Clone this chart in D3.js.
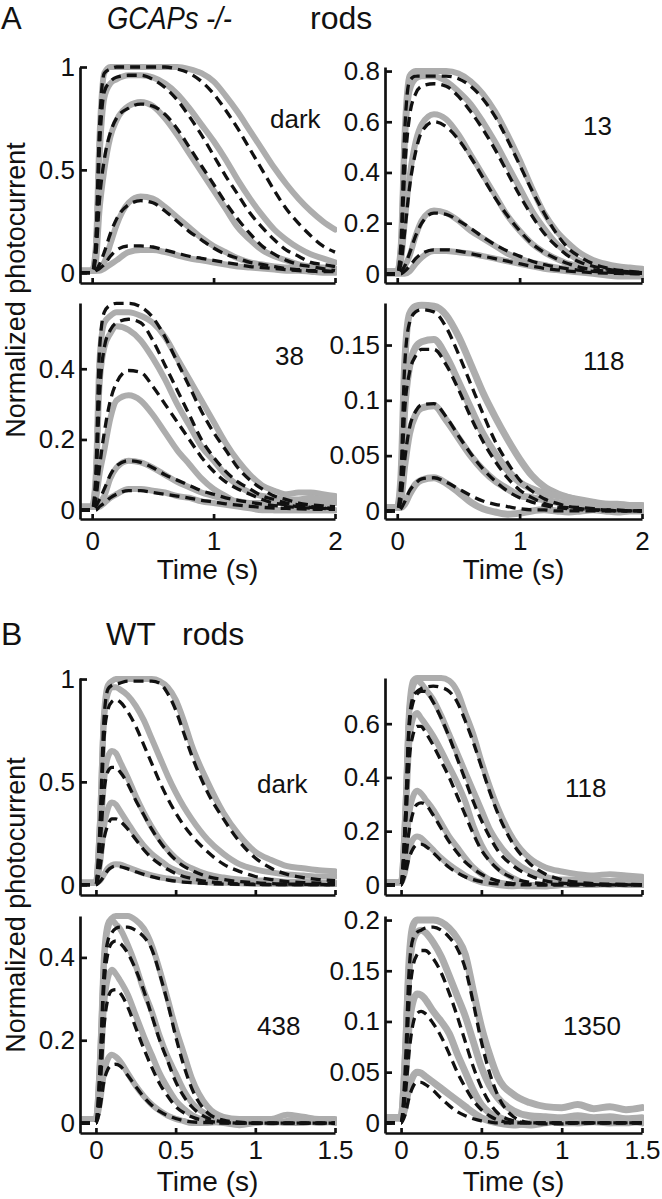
<!DOCTYPE html>
<html>
<head>
<meta charset="utf-8">
<script src="https://cdn.jsdelivr.net/npm/d3@7"></script>
<style>
  html, body { margin: 0; padding: 0; background: #fff; }
  svg { display: block; }
  text { font-family: "Liberation Sans", Arial, Helvetica, sans-serif; fill: #111; }
</style>
</head>
<body>
<script>
// ---------------- DATA ----------------
// time grids (s)
const tA = [-0.1, 0, 0.03, 0.06, 0.1, 0.15, 0.2, 0.3, 0.4, 0.5, 0.6, 0.7, 0.8, 0.9, 1.0, 1.1, 1.2, 1.3, 1.4, 1.5, 1.6, 1.7, 1.8, 1.9, 2.0];
const tB = [-0.1, 0, 0.025, 0.05, 0.075, 0.1, 0.125, 0.15, 0.2, 0.25, 0.3, 0.35, 0.4, 0.45, 0.5, 0.55, 0.6, 0.7, 0.8, 0.9, 1.0, 1.1, 1.2, 1.3, 1.4, 1.5];

const panelLabels = ["dark", "13", "38", "118", "dark", "118", "438", "1350"];
const xTicksA = [0, 1, 2];
const xTicksB = [0, 0.5, 1, 1.5];
const yTicksADark = [0, 0.5, 1];
const yTicksA13 = [0, 0.2, 0.4, 0.6, 0.8];
const yTicksA38 = [0, 0.2, 0.4];
const yTicksA118 = [0, 0.05, 0.1, 0.15];
const yTicksBDark = [0, 0.5, 1];
const yTicksB118 = [0, 0.2, 0.4, 0.6];
const yTicksB438 = [0, 0.2, 0.4];
const yTicksB1350 = [0, 0.05, 0.1, 0.15, 0.2];

// GCAPs-/- dark
const aDarkData = [
  [0.01,0.01,0.12,0.65,0.97,1.0,1.0,1.0,1.0,1.0,1.0,1.0,0.99,0.97,0.93,0.86,0.78,0.69,0.6,0.51,0.43,0.36,0.3,0.25,0.21],
  [0.01,0.01,0.1,0.55,0.85,0.92,0.94,0.96,0.96,0.95,0.92,0.87,0.8,0.72,0.64,0.55,0.45,0.36,0.28,0.21,0.16,0.12,0.09,0.07,0.05],
  [0.01,0.01,0.05,0.3,0.5,0.66,0.74,0.81,0.83,0.81,0.75,0.67,0.58,0.49,0.4,0.31,0.22,0.16,0.11,0.08,0.06,0.04,0.03,0.025,0.02],
  [0.01,0.01,0.01,0.02,0.05,0.14,0.23,0.34,0.37,0.36,0.32,0.27,0.22,0.17,0.13,0.1,0.07,0.05,0.04,0.03,0.025,0.02,0.015,0.01,0.01],
  [0.01,0.01,0.01,0.01,0.02,0.04,0.06,0.1,0.11,0.11,0.1,0.085,0.07,0.06,0.05,0.04,0.03,0.025,0.02,0.015,0.01,0.01,0.005,0.0,0.0]
];
const aDarkFit = [
  [0,0,0.15,0.7,0.97,0.99,1.0,1.0,1.0,1.0,1.0,0.99,0.97,0.93,0.87,0.79,0.7,0.6,0.5,0.4,0.31,0.24,0.18,0.13,0.1],
  [0,0,0.12,0.6,0.88,0.93,0.95,0.96,0.96,0.94,0.9,0.84,0.76,0.67,0.57,0.47,0.38,0.29,0.22,0.16,0.11,0.08,0.05,0.04,0.03],
  [0,0,0.08,0.35,0.55,0.68,0.75,0.8,0.82,0.81,0.77,0.7,0.61,0.52,0.43,0.34,0.26,0.19,0.13,0.09,0.06,0.04,0.03,0.02,0.01],
  [0,0,0.01,0.04,0.1,0.19,0.26,0.33,0.35,0.34,0.3,0.25,0.2,0.16,0.12,0.09,0.07,0.05,0.04,0.03,0.02,0.015,0.01,0.01,0.005],
  [0,0,0.01,0.02,0.04,0.08,0.11,0.13,0.13,0.125,0.11,0.095,0.08,0.07,0.06,0.05,0.04,0.03,0.025,0.02,0.015,0.01,0.008,0.005,0.005]
];
// GCAPs-/- 13
const a13Data = [
  [0.01,0.01,0.12,0.55,0.78,0.8,0.8,0.8,0.8,0.79,0.76,0.71,0.64,0.55,0.45,0.34,0.24,0.17,0.12,0.08,0.055,0.04,0.03,0.025,0.02],
  [0.01,0.01,0.1,0.5,0.72,0.77,0.78,0.78,0.76,0.72,0.67,0.6,0.52,0.43,0.34,0.25,0.18,0.12,0.08,0.05,0.04,0.03,0.02,0.015,0.01],
  [0.01,0.01,0.05,0.2,0.38,0.52,0.59,0.63,0.61,0.55,0.47,0.39,0.31,0.23,0.17,0.12,0.085,0.06,0.04,0.03,0.02,0.015,0.01,0.005,0.0],
  [0.01,0.01,0.01,0.03,0.07,0.15,0.21,0.25,0.24,0.21,0.17,0.14,0.11,0.08,0.06,0.045,0.035,0.025,0.02,0.015,0.01,0.005,0.0,0.0,0.0],
  [0.0,0.0,0.0,0.0,0.01,0.04,0.065,0.09,0.09,0.085,0.08,0.07,0.06,0.05,0.04,0.03,0.02,0.015,0.01,0.005,0.0,-0.005,-0.01,-0.01,-0.01]
];
const a13Fit = [
  [0,0,0.12,0.55,0.76,0.78,0.78,0.78,0.78,0.77,0.74,0.69,0.62,0.53,0.43,0.33,0.24,0.16,0.1,0.065,0.04,0.025,0.015,0.01,0.005],
  [0,0,0.08,0.4,0.62,0.71,0.74,0.75,0.74,0.7,0.64,0.57,0.49,0.4,0.31,0.23,0.16,0.11,0.07,0.045,0.03,0.02,0.012,0.008,0.005],
  [0,0,0.04,0.16,0.34,0.48,0.56,0.6,0.58,0.53,0.46,0.38,0.3,0.23,0.17,0.12,0.085,0.06,0.04,0.025,0.017,0.011,0.007,0.004,0.002],
  [0,0,0.01,0.03,0.08,0.15,0.2,0.24,0.235,0.21,0.18,0.145,0.115,0.09,0.07,0.05,0.037,0.027,0.02,0.014,0.01,0.007,0.005,0.003,0.002],
  [0,0,0,0.01,0.03,0.06,0.08,0.095,0.095,0.09,0.08,0.07,0.06,0.05,0.04,0.03,0.022,0.016,0.011,0.008,0.005,0.003,0.002,0.001,0.0]
];
// GCAPs-/- 38
const a38Data = [
  [0.01,0.01,0.1,0.42,0.53,0.55,0.56,0.56,0.55,0.53,0.49,0.43,0.37,0.31,0.25,0.19,0.14,0.1,0.07,0.055,0.045,0.05,0.05,0.045,0.04],
  [0.01,0.01,0.08,0.35,0.46,0.5,0.52,0.51,0.48,0.43,0.37,0.3,0.24,0.18,0.14,0.1,0.07,0.05,0.04,0.035,0.03,0.03,0.035,0.03,0.03],
  [0.01,0.01,0.03,0.1,0.17,0.26,0.31,0.325,0.31,0.27,0.22,0.17,0.13,0.09,0.06,0.04,0.02,0.01,0.005,0.0,0.0,0.0,0.0,0.0,0.0],
  [0.01,0.01,0.01,0.02,0.04,0.09,0.12,0.14,0.135,0.12,0.1,0.08,0.065,0.05,0.04,0.03,0.025,0.02,0.02,0.02,0.02,0.025,0.02,0.02,0.02],
  [0.01,0.01,0.01,0.01,0.02,0.035,0.045,0.06,0.06,0.055,0.05,0.04,0.035,0.025,0.02,0.015,0.01,0.005,0.0,0.0,0.0,0.0,0.0,0.0,0.0]
];
const a38Fit = [
  [0,0,0.1,0.45,0.56,0.58,0.585,0.585,0.575,0.545,0.49,0.42,0.35,0.28,0.22,0.17,0.12,0.085,0.06,0.04,0.03,0.02,0.015,0.012,0.01],
  [0,0,0.07,0.32,0.46,0.51,0.53,0.54,0.53,0.48,0.41,0.34,0.27,0.2,0.15,0.11,0.08,0.06,0.04,0.03,0.02,0.015,0.01,0.007,0.005],
  [0,0,0.03,0.12,0.22,0.31,0.36,0.395,0.39,0.35,0.3,0.25,0.2,0.15,0.11,0.08,0.06,0.045,0.03,0.02,0.015,0.01,0.008,0.006,0.005],
  [0,0,0.01,0.03,0.06,0.1,0.125,0.14,0.135,0.12,0.1,0.085,0.07,0.055,0.045,0.035,0.028,0.022,0.017,0.013,0.01,0.008,0.006,0.005,0.004],
  [0,0,0,0.01,0.02,0.035,0.045,0.055,0.055,0.05,0.045,0.04,0.034,0.028,0.023,0.018,0.014,0.011,0.008,0.006,0.005,0.004,0.003,0.002,0.002]
];
// GCAPs-/- 118
const a118Data = [
  [0.003,0.003,0.03,0.13,0.178,0.185,0.186,0.185,0.177,0.158,0.133,0.107,0.085,0.065,0.047,0.032,0.022,0.016,0.012,0.009,0.007,0.006,0.006,0.005,0.005],
  [0.003,0.003,0.02,0.09,0.13,0.148,0.153,0.155,0.14,0.117,0.093,0.07,0.052,0.037,0.026,0.02,0.016,0.014,0.012,0.01,0.008,0.006,0.005,0.004,0.004],
  [0.003,0.003,0.01,0.04,0.07,0.087,0.093,0.095,0.082,0.066,0.05,0.037,0.027,0.02,0.014,0.012,0.01,0.008,0.006,0.005,0.004,0.003,0.003,0.002,0.002],
  [0.003,0.003,0.003,0.006,0.015,0.024,0.028,0.03,0.025,0.017,0.008,0.002,-0.001,-0.003,-0.002,0.0,0.001,0.0,-0.001,0.0,0.001,0.0,-0.001,0.0,0.0]
];
const a118Fit = [
  [0,0,0.03,0.13,0.17,0.18,0.182,0.18,0.166,0.142,0.115,0.088,0.063,0.044,0.028,0.018,0.011,0.007,0.004,0.003,0.002,0.001,0.001,0.0,0.0],
  [0,0,0.02,0.09,0.125,0.14,0.146,0.146,0.132,0.11,0.085,0.063,0.045,0.03,0.019,0.012,0.007,0.004,0.003,0.002,0.001,0.001,0.0,0.0,0.0],
  [0,0,0.01,0.045,0.075,0.09,0.096,0.097,0.085,0.068,0.052,0.038,0.027,0.018,0.012,0.008,0.005,0.003,0.002,0.001,0.001,0.0,0.0,0.0,0.0],
  [0,0,0.002,0.008,0.018,0.025,0.029,0.03,0.026,0.02,0.014,0.009,0.006,0.004,0.002,0.001,0.001,0.0,0.0,0.0,0.0,0.0,0.0,0.0,0.0]
];
// WT dark
const bDarkData = [
  [0.01,0.01,0.3,0.82,0.97,0.99,1,1,1,1,1,1,0.99,0.96,0.9,0.8,0.68,0.5,0.35,0.24,0.16,0.12,0.09,0.08,0.07,0.065],
  [0.01,0.01,0.3,0.8,0.93,0.96,0.96,0.95,0.92,0.87,0.8,0.71,0.62,0.53,0.45,0.38,0.32,0.22,0.15,0.1,0.075,0.06,0.05,0.045,0.04,0.04],
  [0.01,0.01,0.2,0.5,0.62,0.65,0.64,0.6,0.52,0.43,0.35,0.28,0.22,0.17,0.13,0.1,0.08,0.05,0.035,0.025,0.02,0.02,0.015,0.015,0.01,0.01],
  [0.01,0.01,0.1,0.28,0.37,0.4,0.39,0.36,0.3,0.24,0.19,0.15,0.12,0.09,0.07,0.055,0.045,0.03,0.02,0.015,0.01,0.01,0.01,0.01,0.005,0.005],
  [0.01,0.01,0.02,0.05,0.08,0.095,0.1,0.098,0.085,0.07,0.056,0.045,0.036,0.03,0.025,0.02,0.017,0.012,0.009,0.007,0.005,0.005,0.004,0.004,0.003,0.003]
];
const bDarkFit = [
  [0,0,0.28,0.8,0.95,0.97,0.975,0.98,0.99,0.99,0.99,0.99,0.98,0.93,0.85,0.74,0.63,0.45,0.32,0.21,0.13,0.08,0.05,0.035,0.025,0.02],
  [0,0,0.25,0.7,0.85,0.89,0.9,0.89,0.84,0.77,0.68,0.59,0.5,0.42,0.35,0.29,0.24,0.16,0.1,0.065,0.04,0.025,0.015,0.01,0.008,0.006],
  [0,0,0.18,0.45,0.55,0.57,0.57,0.55,0.49,0.41,0.34,0.27,0.21,0.16,0.12,0.09,0.07,0.04,0.025,0.015,0.01,0.005,0.003,0.002,0.001,0.0],
  [0,0,0.08,0.22,0.29,0.32,0.32,0.31,0.27,0.22,0.17,0.13,0.1,0.075,0.055,0.04,0.03,0.015,0.008,0.004,0.002,0.001,0,0,0,0],
  [0,0,0.015,0.04,0.07,0.085,0.09,0.088,0.077,0.063,0.05,0.039,0.03,0.023,0.017,0.013,0.01,0.006,0.003,0.002,0.001,0,0,0,0,0]
];
// WT 118
const b118Data = [
  [0.01,0.01,0.25,0.65,0.76,0.77,0.77,0.77,0.77,0.77,0.76,0.72,0.64,0.56,0.46,0.37,0.29,0.17,0.1,0.065,0.05,0.04,0.035,0.04,0.035,0.03],
  [0.01,0.01,0.25,0.63,0.74,0.76,0.75,0.73,0.69,0.63,0.56,0.49,0.42,0.35,0.28,0.21,0.16,0.09,0.05,0.03,0.02,0.02,0.015,0.015,0.02,0.015],
  [0.01,0.01,0.2,0.52,0.62,0.64,0.62,0.6,0.555,0.5,0.44,0.38,0.31,0.22,0.15,0.1,0.065,0.025,0.0,-0.005,0.0,0.005,0.0,0.005,0.01,0.005],
  [0.01,0.01,0.1,0.26,0.33,0.35,0.34,0.32,0.28,0.23,0.18,0.14,0.1,0.065,0.04,0.02,0.01,0.0,-0.005,-0.005,0.0,0.0,0.005,0.0,0.005,0.0],
  [0.01,0.01,0.05,0.13,0.17,0.18,0.175,0.16,0.13,0.1,0.075,0.055,0.035,0.02,0.01,0.005,0.0,-0.005,0.0,0.0,0.005,0.0,0.0,0.005,0.0,0.0]
];
const b118Fit = [
  [0,0,0.22,0.6,0.7,0.72,0.73,0.735,0.74,0.735,0.72,0.68,0.61,0.53,0.44,0.35,0.27,0.15,0.08,0.04,0.02,0.01,0.005,0.003,0.002,0.001],
  [0,0,0.22,0.58,0.68,0.71,0.72,0.72,0.68,0.62,0.55,0.47,0.39,0.31,0.24,0.18,0.13,0.07,0.035,0.015,0.007,0.003,0.001,0,0,0],
  [0,0,0.18,0.46,0.56,0.59,0.59,0.57,0.52,0.46,0.4,0.33,0.26,0.19,0.13,0.09,0.06,0.025,0.01,0.004,0.002,0.001,0,0,0,0],
  [0,0,0.08,0.2,0.27,0.3,0.305,0.3,0.26,0.21,0.16,0.12,0.085,0.06,0.04,0.025,0.015,0.005,0.002,0,0,0,0,0,0,0],
  [0,0,0.04,0.1,0.135,0.15,0.152,0.145,0.12,0.09,0.065,0.045,0.03,0.02,0.012,0.007,0.004,0.001,0,0,0,0,0,0,0,0]
];
// WT 438
const b438Data = [
  [0.01,0.01,0.15,0.4,0.48,0.495,0.5,0.5,0.5,0.49,0.47,0.43,0.37,0.3,0.23,0.17,0.11,0.04,0.015,0.01,0.01,0.01,0.02,0.015,0.01,0.01],
  [0.01,0.01,0.15,0.38,0.47,0.49,0.48,0.47,0.43,0.38,0.32,0.27,0.21,0.16,0.12,0.08,0.05,0.02,0.005,0.0,0.005,0.0,0.005,0.01,0.005,0.005],
  [0.01,0.01,0.1,0.28,0.35,0.37,0.36,0.345,0.31,0.26,0.21,0.165,0.12,0.085,0.055,0.035,0.02,0.005,0.0,-0.005,0.0,0.005,0.0,0.005,0.0,0.005],
  [0.01,0.01,0.05,0.12,0.155,0.165,0.16,0.15,0.12,0.09,0.065,0.045,0.03,0.018,0.01,0.005,0.0,0.0,0.005,0.0,0.0,0.005,0.0,0.0,0.005,0.0]
];
const b438Fit = [
  [0,0,0.13,0.36,0.44,0.46,0.47,0.473,0.473,0.465,0.45,0.42,0.36,0.29,0.21,0.14,0.085,0.025,0.007,0.002,0,0,0,0,0,0],
  [0,0,0.12,0.33,0.41,0.435,0.44,0.435,0.41,0.37,0.32,0.26,0.2,0.15,0.1,0.065,0.04,0.012,0.003,0,0,0,0,0,0,0],
  [0,0,0.08,0.23,0.3,0.32,0.322,0.315,0.28,0.23,0.18,0.135,0.095,0.065,0.04,0.025,0.015,0.005,0.001,0,0,0,0,0,0,0],
  [0,0,0.035,0.1,0.13,0.14,0.142,0.138,0.115,0.088,0.063,0.043,0.028,0.018,0.011,0.006,0.003,0.001,0,0,0,0,0,0,0,0]
];
// WT 1350
const b1350Data = [
  [0.005,0.005,0.06,0.16,0.195,0.2,0.2,0.2,0.2,0.198,0.192,0.182,0.166,0.13,0.095,0.068,0.046,0.028,0.02,0.016,0.015,0.018,0.014,0.016,0.013,0.015],
  [0.005,0.005,0.06,0.15,0.18,0.188,0.19,0.188,0.178,0.164,0.145,0.125,0.105,0.08,0.055,0.037,0.025,0.012,0.007,0.006,0.005,0.007,0.005,0.006,0.004,0.005],
  [0.005,0.005,0.04,0.095,0.12,0.127,0.126,0.122,0.11,0.1,0.088,0.068,0.05,0.032,0.018,0.01,0.006,0.0,-0.002,0.0,0.002,0.0,0.001,0.0,0.002,0.0],
  [0.005,0.005,0.015,0.035,0.046,0.05,0.049,0.046,0.04,0.034,0.028,0.022,0.016,0.01,0.005,0.002,0.0,-0.002,0.0,0.002,0.0,0.0,0.002,0.0,0.0,0.002]
];
const b1350Fit = [
  [0,0,0.05,0.15,0.182,0.188,0.19,0.192,0.193,0.19,0.183,0.172,0.152,0.118,0.08,0.05,0.028,0.006,0.0,-0.001,-0.001,0,0,0,0,0],
  [0,0,0.04,0.12,0.155,0.166,0.17,0.17,0.162,0.148,0.128,0.105,0.08,0.055,0.035,0.02,0.01,0.002,0,0,0,0,0,0,0,0],
  [0,0,0.025,0.07,0.098,0.108,0.11,0.108,0.098,0.085,0.068,0.05,0.035,0.022,0.013,0.007,0.003,0,0,0,0,0,0,0,0,0],
  [0,0,0.008,0.025,0.036,0.04,0.04,0.038,0.032,0.024,0.017,0.011,0.007,0.004,0.002,0.001,0,0,0,0,0,0,0,0,0,0]
];

// ---------------- LAYOUT ----------------
const W = 662, H = 1199;
const svg = d3.select("body").append("svg").attr("width", W).attr("height", H);

const colX = [[80, 335], [385, 642]];
const rowsA = [[67, 283], [303, 519]];
const rowsB = [[678, 895], [916, 1133]];

const panels = [
  {t: tA, data: aDarkData, fit: aDarkFit, xlim: [-0.1, 2], ylim: [-0.05, 1], xt: xTicksA, yt: yTicksADark, col: 0, row: rowsA[0], label: panelLabels[0], lx: 270, ly: 128, xl: false},
  {t: tA, data: a13Data, fit: a13Fit, xlim: [-0.1, 2], ylim: [-0.036, 0.816], xt: xTicksA, yt: yTicksA13, col: 1, row: rowsA[0], label: panelLabels[1], lx: 583, ly: 135, xl: false},
  {t: tA, data: a38Data, fit: a38Fit, xlim: [-0.1, 2], ylim: [-0.025, 0.586], xt: xTicksA, yt: yTicksA38, col: 0, row: rowsA[1], label: panelLabels[2], lx: 275, ly: 365, xl: true, pad: 13, tb: 579},
  {t: tA, data: a118Data, fit: a118Fit, xlim: [-0.1, 2], ylim: [-0.0073, 0.188], xt: xTicksA, yt: yTicksA118, col: 1, row: rowsA[1], label: panelLabels[3], lx: 583, ly: 370, xl: true, pad: 13, tb: 579, gw: 7},
  {t: tB, data: bDarkData, fit: bDarkFit, xlim: [-0.1, 1.5], ylim: [-0.05, 1.005], xt: xTicksB, yt: yTicksBDark, col: 0, row: rowsB[0], label: panelLabels[4], lx: 257, ly: 793, xl: false},
  {t: tB, data: b118Data, fit: b118Fit, xlim: [-0.1, 1.5], ylim: [-0.0375, 0.77], xt: xTicksB, yt: yTicksB118, col: 1, row: rowsB[0], label: panelLabels[5], lx: 565, ly: 797, xl: false},
  {t: tB, data: b438Data, fit: b438Fit, xlim: [-0.1, 1.5], ylim: [-0.024, 0.5], xt: xTicksB, yt: yTicksB438, col: 0, row: rowsB[1], label: panelLabels[6], lx: 257, ly: 1035, xl: true, pad: 8, tb: 1191},
  {t: tB, data: b1350Data, fit: b1350Fit, xlim: [-0.1, 1.5], ylim: [-0.01, 0.204], xt: xTicksB, yt: yTicksB1350, col: 1, row: rowsB[1], label: panelLabels[7], lx: 563, ly: 1035, xl: true, pad: 8, tb: 1191, gw: 7}
];

const grayColor = "#adadad";
const fmt = d => String(+d.toFixed(3));
const tickFont = 26;

panels.forEach((p, i) => {
  const [x0, x1] = colX[p.col];
  const [y0, y1] = p.row;
  const x = d3.scaleLinear().domain(p.xlim).range([x0, x1]);
  const y = d3.scaleLinear().domain(p.ylim).range([y1, y0]);

  const clipId = "clip" + i;
  svg.append("clipPath").attr("id", clipId).append("rect")
    .attr("x", x0).attr("y", y0 - 4).attr("width", x1 - x0 + 2).attr("height", y1 - y0 + 4);

  const g = svg.append("g").attr("clip-path", `url(#${clipId})`);
  const line = d3.line().x((d, k) => x(p.t[k])).y(d => y(d)).curve(d3.curveMonotoneX);

  g.selectAll("path.gray").data(p.data).join("path")
    .attr("class", "gray")
    .attr("d", line)
    .attr("fill", "none")
    .attr("stroke", grayColor)
    .attr("stroke-width", p.gw || 6)
    .attr("stroke-linejoin", "round")
    .attr("stroke-linecap", "round");

  g.selectAll("path.fit").data(p.fit).join("path")
    .attr("class", "fit")
    .attr("d", line)
    .attr("fill", "none")
    .attr("stroke", "#111")
    .attr("stroke-width", 3.3)
    .attr("stroke-dasharray", "10,6");

  // axes
  const yAxis = d3.axisLeft(y).tickValues(p.yt).tickFormat(fmt).tickSize(-7).tickSizeOuter(0).tickPadding(5);
  const ya = svg.append("g").attr("transform", `translate(${x0},0)`).call(yAxis);
  ya.select(".domain").attr("stroke", "#111").attr("stroke-width", 2.7);
  ya.selectAll(".tick line").attr("stroke", "#111").attr("stroke-width", 2.7);
  ya.selectAll("text").attr("font-size", tickFont).attr("font-family", "Liberation Sans, Arial, sans-serif").attr("fill", "#111");

  const xAxis = d3.axisBottom(x).tickValues(p.xt).tickSize(-5).tickSizeOuter(0)
    .tickFormat(p.xl ? fmt : () => "").tickPadding(p.pad || 10);
  const xa = svg.append("g").attr("transform", `translate(0,${y1})`).call(xAxis);
  xa.select(".domain").attr("stroke", "#111").attr("stroke-width", 2.7);
  xa.selectAll(".tick line").attr("stroke", "#111").attr("stroke-width", 2.7);
  xa.selectAll("text").attr("font-size", tickFont).attr("font-family", "Liberation Sans, Arial, sans-serif").attr("fill", "#111");

  // panel label
  svg.append("text").attr("x", p.lx).attr("y", p.ly).attr("font-size", 26).text(p.label);

  if (p.xl) {
    svg.append("text").attr("x", (x0 + x1) / 2).attr("y", p.tb)
      .attr("text-anchor", "middle").attr("font-size", 28).text("Time (s)");
  }
});

// y labels
[290, 905].forEach(cy => {
  svg.append("text").attr("transform", `translate(25,${cy}) rotate(-90)`)
    .attr("text-anchor", "middle").attr("font-size", 27).text("Normalized photocurrent");
});

// titles
svg.append("text").attr("x", 1).attr("y", 29).attr("font-size", 31).text("A");
svg.append("text").attr("x", 107).attr("y", 29).attr("font-size", 31).attr("font-style", "italic")
  .attr("textLength", 125).attr("lengthAdjust", "spacingAndGlyphs").text("GCAPs -/-");
svg.append("text").attr("x", 310).attr("y", 29).attr("font-size", 32).text("rods");
svg.append("text").attr("x", 1).attr("y", 645).attr("font-size", 32).text("B");
svg.append("text").attr("x", 106).attr("y", 645).attr("font-size", 32).text("WT");
svg.append("text").attr("x", 182).attr("y", 645).attr("font-size", 32).text("rods");
</script>
</body>
</html>
